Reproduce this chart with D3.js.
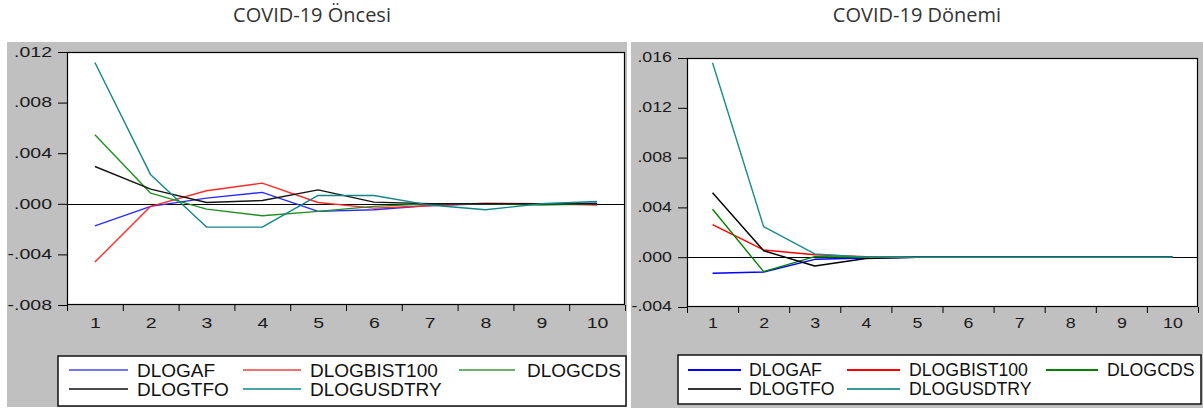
<!DOCTYPE html>
<html>
<head>
<meta charset="utf-8">
<script src="https://cdn.jsdelivr.net/npm/d3@7"></script>
<style>
  html, body { margin: 0; padding: 0; background: #fff; }
  svg { display: block; }
</style>
</head>
<body>
<svg id="chart" width="1203" height="408"></svg>
<script>
// ---------------- DATA ----------------
const periods = [1, 2, 3, 4, 5, 6, 7, 8, 9, 10];
const seriesNames = ["DLOGAF", "DLOGBIST100", "DLOGCDS", "DLOGTFO", "DLOGUSDTRY"];
const panelTitles = ["COVID-19 Öncesi", "COVID-19 Dönemi"];

// COVID-19 Öncesi (pre-COVID) responses
const preAF      = [-0.00174, -0.00020, 0.00045, 0.00090, -0.00060, -0.00047, -0.00013, 0.00000, 0.00000, 0.00005];
const preBIST100 = [-0.00461, -0.00020, 0.00103, 0.00163, 0.00010, -0.00034, -0.00016, 0.00005, 0.00000, -0.00010];
const preCDS     = [0.00545, 0.00084, -0.00042, -0.00095, -0.00060, -0.00020, 0.00000, 0.00000, -0.00010, 0.00000];
const preTFO     = [0.00295, 0.00116, 0.00010, 0.00026, 0.00110, 0.00013, 0.00000, 0.00000, 0.00000, 0.00000];
const preUSDTRY  = [0.01117, 0.00229, -0.00184, -0.00184, 0.00066, 0.00066, -0.00010, -0.00047, 0.00000, 0.00018];

// COVID-19 Dönemi (COVID period) responses
const durAF      = [-0.00129, -0.00119, -0.00017, -0.00006, 0, 0, 0, 0, 0, 0];
const durBIST100 = [0.00261, 0.00058, 0.00020, 0.00005, 0, 0, 0, 0, 0, 0];
const durCDS     = [0.00385, -0.00116, 0.00004, 0.00000, 0, 0, 0, 0, 0, 0];
const durTFO     = [0.00518, 0.00052, -0.00071, -0.00010, 0, 0, 0, 0, 0, 0];
const durUSDTRY  = [0.01562, 0.00245, 0.00026, 0.00000, 0, 0, 0, 0, 0, 0];

// Tick values / labels
const preYTicks       = [-0.008, -0.004, 0.000, 0.004, 0.008, 0.012];
const preYTickLabels  = ["-.008", "-.004", ".000", ".004", ".008", ".012"];
const durYTicks       = [-0.004, 0.000, 0.004, 0.008, 0.012, 0.016];
const durYTickLabels  = ["-.004", ".000", ".004", ".008", ".012", ".016"];
const xTickLabels     = ["1", "2", "3", "4", "5", "6", "7", "8", "9", "10"];

// ---------------- DRAWING ----------------
const svg = d3.select("#chart");

const panels = [
  {
    title: panelTitles[0], titleX: 312,
    bg: [7, 42, 627, 407],
    plot: { left: 67, right: 625, top: 52, bottom: 305 },
    yDomain: [-0.008, 0.012], yTicks: preYTicks, yLabels: preYTickLabels,
    series: [preAF, preBIST100, preCDS, preTFO, preUSDTRY],
    lineColors: ["#2a2aff", "#ff2a2a", "#1f8f1f", "#151515", "#138585"],
    legendColors: ["#7474f4", "#f27272", "#6db36d", "#4a4a4a", "#4aa6a6"],
    fontSize: 15, stretch: 1.3, xLabelPad: 12,
    legend: { box: [58, 356, 626, 406], rows: [370, 389],
              cols: [[69, 128, 137], [243, 301, 310], [459, 515, 527]], fontSize: 19 }
  },
  {
    title: panelTitles[1], titleX: 917,
    bg: [631, 42, 1203, 408],
    plot: { left: 687, right: 1198, top: 58, bottom: 307 },
    yDomain: [-0.004, 0.016], yTicks: durYTicks, yLabels: durYTickLabels,
    series: [durAF, durBIST100, durCDS, durTFO, durUSDTRY],
    lineColors: ["#0000ff", "#ff0000", "#008000", "#000000", "#1a8c8c"],
    legendColors: ["#0000ff", "#ff0000", "#008000", "#333333", "#3a9a9a"],
    fontSize: 14, stretch: 1.27, xLabelPad: 11,
    legend: { box: [678, 355, 1201, 404], rows: [370, 389],
              cols: [[688, 741, 749], [847, 900, 909], [1046, 1098, 1107]], fontSize: 17.7 }
  }
];

panels.forEach(P => {
  const g = svg.append("g");

  // title
  g.append("text")
    .attr("x", P.titleX).attr("y", 22)
    .attr("text-anchor", "middle")
    .style("font-family", "'Open Sans', sans-serif")
    .style("font-size", "20px")
    .style("fill", "#333")
    .text(P.title);

  // gray background
  g.append("rect")
    .attr("x", P.bg[0]).attr("y", P.bg[1])
    .attr("width", P.bg[2] - P.bg[0]).attr("height", P.bg[3] - P.bg[1])
    .attr("fill", "#c0c0c0");

  const pl = P.plot;
  // white plotting area
  g.append("rect")
    .attr("x", pl.left).attr("y", pl.top)
    .attr("width", pl.right - pl.left).attr("height", pl.bottom - pl.top)
    .attr("fill", "#fff");

  const x = d3.scaleLinear().domain([0.5, 10.5]).range([pl.left, pl.right]);
  const y = d3.scaleLinear().domain(P.yDomain).range([pl.bottom, pl.top]);

  const fontStyle = sel => sel
    .style("font-family", "'Liberation Sans', Arial, sans-serif")
    .style("font-size", P.fontSize + "px")
    .style("fill", "#1a1a1a");

  // Y axis
  const tickLen = 9, pad = 6;
  const yAxis = g.append("g")
    .attr("transform", `translate(${pl.left},0)`)
    .call(d3.axisLeft(y).tickValues(P.yTicks)
      .tickFormat((d, i) => P.yLabels[i])
      .tickSize(tickLen).tickPadding(pad));
  yAxis.select(".domain").remove();
  yAxis.selectAll(".tick line").attr("stroke", "#000");
  yAxis.selectAll(".tick text")
    .call(fontStyle)
    .attr("x", -(tickLen + pad) / P.stretch)
    .attr("dy", "0.28em")
    .attr("transform", `scale(${P.stretch},1)`);

  // X axis boundary ticks
  const boundaries = d3.range(0.5, 11, 1);
  const xTicks = g.append("g")
    .attr("transform", `translate(0,${pl.bottom})`)
    .call(d3.axisBottom(x).tickValues(boundaries).tickFormat("").tickSize(6));
  xTicks.select(".domain").remove();
  xTicks.selectAll(".tick line").attr("stroke", "#000");

  // X axis labels at period centres
  const xLab = g.append("g")
    .attr("transform", `translate(0,${pl.bottom})`)
    .call(d3.axisBottom(x).tickValues(periods)
      .tickFormat((d, i) => xTickLabels[i])
      .tickSize(0).tickPadding(P.xLabelPad));
  xLab.select(".domain").remove();
  xLab.selectAll(".tick text")
    .call(fontStyle)
    .attr("transform", `scale(${P.stretch},1)`);

  // zero line
  g.append("line")
    .attr("x1", pl.left).attr("x2", pl.right)
    .attr("y1", Math.round(y(0)) + 0.5).attr("y2", Math.round(y(0)) + 0.5)
    .attr("stroke", "#000").attr("stroke-width", 1);

  // series lines
  const line = d3.line()
    .x((d, i) => x(periods[i]))
    .y(d => y(d));
  P.series.forEach((vals, si) => {
    g.append("path")
      .datum(vals)
      .attr("d", line)
      .attr("fill", "none")
      .attr("stroke", P.lineColors[si])
      .attr("stroke-width", 1.4)
      .attr("stroke-linejoin", "round");
  });

  // plot frame
  g.append("rect")
    .attr("x", pl.left + 0.5).attr("y", pl.top + 0.5)
    .attr("width", pl.right - pl.left - 1).attr("height", pl.bottom - pl.top - 1)
    .attr("fill", "none").attr("stroke", "#000").attr("stroke-width", 1.2);

  // legend
  const L = P.legend;
  g.append("rect")
    .attr("x", L.box[0]).attr("y", L.box[1])
    .attr("width", L.box[2] - L.box[0]).attr("height", L.box[3] - L.box[1])
    .attr("fill", "#fff").attr("stroke", "#111").attr("stroke-width", 1.5);

  seriesNames.forEach((name, i) => {
    const row = Math.floor(i / 3), col = i % 3;
    const c = L.cols[col], ry = L.rows[row];
    g.append("line")
      .attr("x1", c[0]).attr("x2", c[1])
      .attr("y1", ry).attr("y2", ry)
      .attr("stroke", P.legendColors[i]).attr("stroke-width", 1.8);
    g.append("text")
      .attr("x", c[2]).attr("y", ry)
      .attr("dy", "0.36em")
      .style("font-family", "'Liberation Sans', Arial, sans-serif")
      .style("font-size", L.fontSize + "px")
      .style("fill", "#111")
      .text(name);
  });
});
</script>
</body>
</html>
